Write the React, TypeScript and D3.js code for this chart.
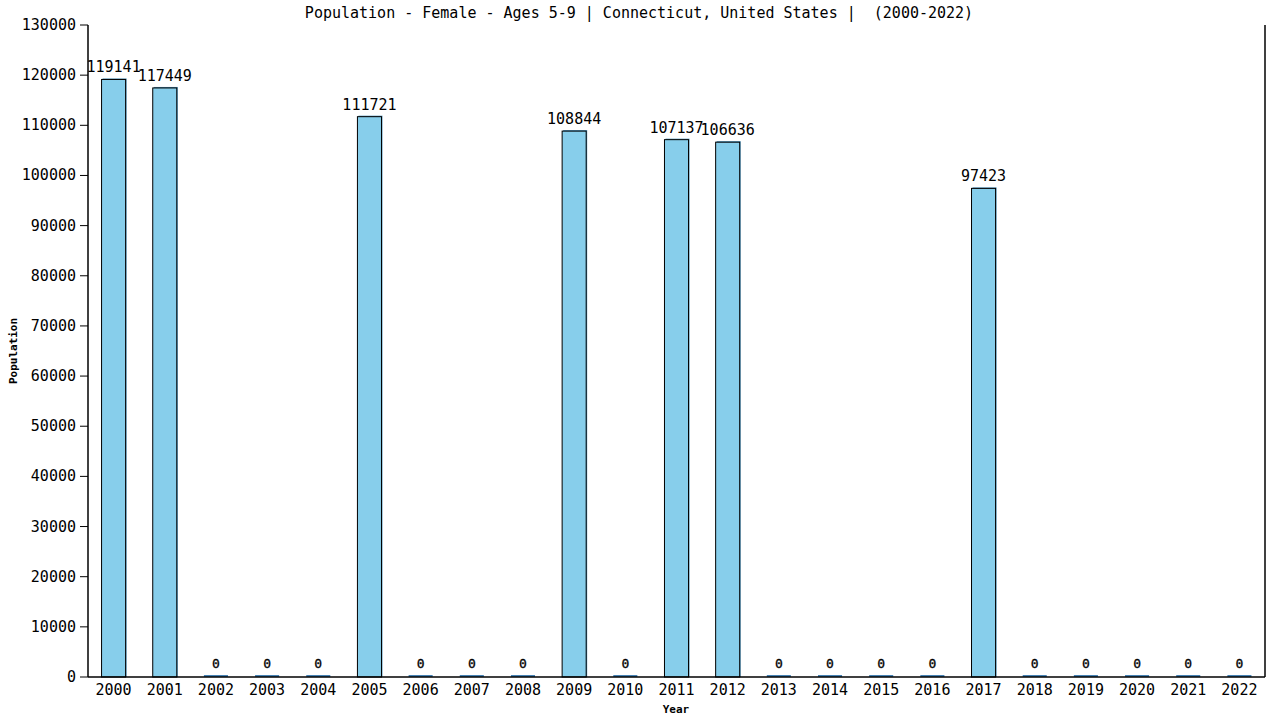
import React from "react";
import * as d3 from "d3";

const years: string[] = [
  "2000","2001","2002","2003","2004","2005","2006","2007","2008","2009","2010","2011",
  "2012","2013","2014","2015","2016","2017","2018","2019","2020","2021","2022",
];
const values: number[] = [
  119141, 117449, 0, 0, 0, 111721, 0, 0, 0, 108844, 0, 107137,
  106636, 0, 0, 0, 0, 97423, 0, 0, 0, 0, 0,
];
const yTicks: number[] = d3.range(0, 130001, 10000);
const title = "Population - Female - Ages 5-9 | Connecticut, United States |  (2000-2022)";
const xTitle = "Year";
const yTitle = "Population";

const W = 1280;
const H = 720;
const left = 88;
const right = 1265;
const top = 25;
const bottom = 677;
const font = "'DejaVu Sans Mono', monospace";

export default function App() {
  const x = d3.scaleBand<string>().domain(years).range([left, right]).paddingInner(0.53).paddingOuter(0.265);
  const y = d3.scaleLinear().domain([0, 130000]).range([bottom, top]);
  const bw = x.bandwidth();

  return (
    <div style={{ position: "fixed", left: 0, top: 0 }}>
      <svg width={W} height={H} style={{ display: "block", background: "#fff" }}>
        <text x={639} y={18} textAnchor="middle" fontFamily={font} fontSize={15} fill="#000" style={{ whiteSpace: "pre" }}>
          {title}
        </text>
        {years.map((yr, i) => {
          const v = values[i];
          const bx = x(yr)!;
          const cx = bx + bw / 2;
          if (v === 0) {
            return (
              <g key={yr}>
                <rect x={bx} y={bottom - 2} width={bw} height={2} fill="#4682b4" />
                <text x={cx} y={bottom - 9} textAnchor="middle" fontFamily={font} fontSize={13} fill="#000" stroke="#000" strokeWidth={0.3}>
                  0
                </text>
              </g>
            );
          }
          const by = y(v);
          return (
            <g key={yr}>
              <rect x={bx + 1} y={by - 1} width={bw} height={bottom - by + 1} fill="#4a90b8" />
              <rect x={bx} y={by} width={bw} height={bottom - by} fill="#87ceeb" stroke="#000" strokeWidth={1} />
              <text x={cx} y={by - 7} textAnchor="middle" fontFamily={font} fontSize={15} fill="#000">
                {v}
              </text>
            </g>
          );
        })}
        <line x1={left} x2={left} y1={top} y2={bottom} stroke="#000" strokeWidth={1.5} />
        <line x1={right} x2={right} y1={top} y2={bottom} stroke="#000" strokeWidth={1.5} />
        <line x1={left} x2={right} y1={bottom} y2={bottom} stroke="#000" strokeWidth={1.5} />
        {yTicks.map((t) => (
          <g key={t}>
            <line x1={left - 8} x2={left} y1={y(t)} y2={y(t)} stroke="#000" strokeWidth={1} />
            <text x={76} y={y(t) + 5} textAnchor="end" fontFamily={font} fontSize={15} fill="#000">
              {t}
            </text>
          </g>
        ))}
        {years.map((yr) => (
          <text key={yr} x={x(yr)! + bw / 2} y={695} textAnchor="middle" fontFamily={font} fontSize={15} fill="#000">
            {yr}
          </text>
        ))}
        <text x={676} y={713} textAnchor="middle" fontFamily={font} fontSize={11} fontWeight="bold" fill="#000">
          {xTitle}
        </text>
        <text
          transform={`translate(17, ${(top + bottom) / 2}) rotate(-90)`}
          textAnchor="middle"
          fontFamily={font}
          fontSize={11}
          fontWeight="bold"
          fill="#000"
        >
          {yTitle}
        </text>
      </svg>
    </div>
  );
}
